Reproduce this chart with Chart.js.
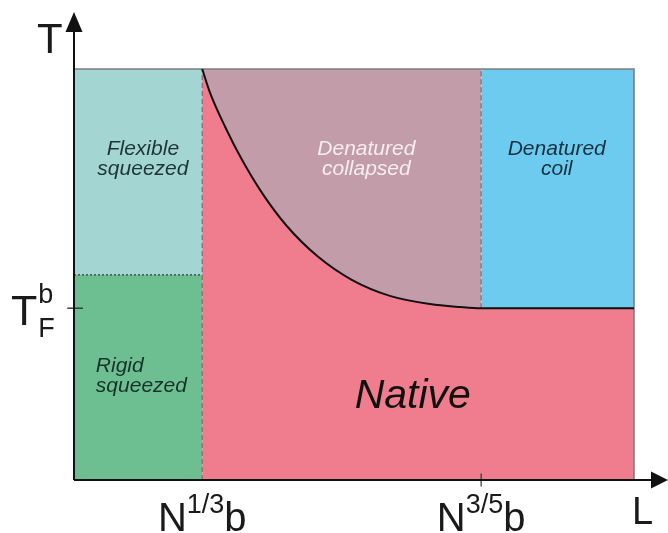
<!DOCTYPE html>
<html>
<head>
<meta charset="utf-8">
<script src="https://cdn.jsdelivr.net/npm/chart.js@4"></script>
<style>
  html, body { margin: 0; padding: 0; background: #fff; }
  #wrap { width: 668px; height: 533px; position: relative; }
</style>
</head>
<body>
<div id="wrap"><canvas id="fase"></canvas></div>
<script>
// --- datos (L en unidades de la caja, T normalizada) ---
const L_N13 = 0.229;   // N^{1/3} b
const L_N35 = 0.727;   // N^{3/5} b
const L_MAX = 1.0;
const T_MAX = 1.0;
const T_FB = 0.418;    // T_F^b
const T_FLEX = 0.499;  // borde flexible / rigido

// frontera nativo / desnaturalizado colapsado
const curvaL = [0.229, 0.243, 0.270, 0.300, 0.336, 0.380, 0.436, 0.496, 0.564, 0.636, 0.689, 0.727, 1.0];
const curvaT = [1.0, 0.942, 0.859, 0.779, 0.698, 0.618, 0.543, 0.487, 0.448, 0.428, 0.421, 0.418, 0.418];

const regiones = ['Flexible squeezed', 'Rigid squeezed', 'Denatured collapsed', 'Denatured coil', 'Native'];
const ticksX = [['N', '1/3', 'b'], ['N', '3/5', 'b']];
const ticksY = [['T', 'F', 'b']];
const ejes = ['L', 'T'];

// rango de los ejes (la flecha va mas alla de la caja)
const X_END = 1.0607, Y_END = 1.1387;

const pts = (xs, ys) => xs.map((x, i) => ({ x, y: ys[i] }));
const FONT = '"Liberation Sans", Arial, sans-serif';

const relleno = (data, color) => ({
  data, fill: 'origin', backgroundColor: color, borderWidth: 0, pointRadius: 0, tension: 0
});
const linea = (data, color, width, dash, clip) => ({
  data, fill: false, borderColor: color, borderWidth: width, borderDash: dash || [],
  pointRadius: 0, tension: 0, clip: clip ? false : undefined
});

const datasets = [
  relleno(pts([L_N35, L_MAX], [T_MAX, T_MAX]), '#6ccbee'),          // coil
  relleno(pts([L_N13, L_N35], [T_MAX, T_MAX]), '#c29ca9'),          // collapsed
  relleno(pts([0, L_N13], [T_MAX, T_MAX]), '#a3d5d2'),              // flexible
  relleno(pts([0, L_N13], [T_FLEX, T_FLEX]), '#6dbf92'),            // rigid
  Object.assign(relleno(pts(curvaL, curvaT), '#ef7d8e'), { cubicInterpolationMode: 'monotone' }), // native
  linea(pts([0, L_N13], [T_FLEX, T_FLEX]), '#2e3b36', 1.3, [2, 2]),
  linea(pts([L_N13, L_N13], [0, T_MAX]), '#8c6670', 1.2, [5, 3]),
  linea(pts([L_N35, L_N35], [T_FB, T_MAX]), '#8c6670', 1.2, [5, 3]),
  linea(pts([0, L_MAX, L_MAX], [T_MAX, T_MAX, 0]), '#7d7d7d', 1.6),
  Object.assign(linea(pts(curvaL, curvaT), '#111', 2), { cubicInterpolationMode: 'monotone' }),
  linea(pts([L_N35, L_N35], [-0.016, 0.016]), '#333', 1.2, null, true),
  linea(pts([-0.012, 0.016], [T_FB, T_FB]), '#333', 1.4, null, true),
  linea(pts([0, X_END - 0.02], [0, 0]), '#111', 2, null, true),
  linea(pts([0, 0], [0, Y_END - 0.03]), '#111', 2, null, true)
];
datasets.forEach((d, i) => { d.order = -i; });

// texto de regiones: [lineas, x, y (datos), alineacion, color, tamano]
const etiquetas = [
  [['Flexible', 'squeezed'], 0.123, 0.791, 'center', '#1d3535', 21],
  [['Rigid', 'squeezed'], 0.039, 0.263, 'left', '#163329', 21],
  [['Denatured', 'collapsed'], 0.522, 0.791, 'center', '#f6eef1', 21],
  [['Denatured', 'coil'], 0.862, 0.791, 'center', '#163040', 21],
  [['Native'], 0.605, 0.175, 'center', '#111', 41]
];

const dibujo = {
  id: 'dibujo',
  afterDatasetsDraw(chart) {
    const { ctx, scales: { x, y } } = chart;
    ctx.save();
    // flechas
    ctx.fillStyle = '#111';
    const ox = x.getPixelForValue(0), oy = y.getPixelForValue(0);
    const ty = y.getPixelForValue(Y_END), tx = x.getPixelForValue(X_END);
    ctx.beginPath();
    ctx.moveTo(ox, ty); ctx.lineTo(ox - 8.5, ty + 20); ctx.lineTo(ox + 8.5, ty + 20); ctx.closePath(); ctx.fill();
    ctx.beginPath();
    ctx.moveTo(tx, oy); ctx.lineTo(tx - 17, oy - 8.5); ctx.lineTo(tx - 17, oy + 8.5); ctx.closePath(); ctx.fill();

    // etiquetas de regiones
    etiquetas.forEach(([lineas, lx, ly, al, col, size]) => {
      ctx.font = `italic ${size}px ${FONT}`;
      ctx.fillStyle = col;
      ctx.textAlign = al;
      ctx.textBaseline = 'alphabetic';
      lineas.forEach((t, k) => ctx.fillText(t, x.getPixelForValue(lx), y.getPixelForValue(ly) + k * 20));
    });

    // ticks del eje L con superindice
    ctx.fillStyle = '#1a1a1a';
    ctx.textAlign = 'left';
    [L_N13, L_N35].forEach((v, i) => {
      const [base, sup, tail] = ticksX[i];
      ctx.font = `40px ${FONT}`;
      const wB = ctx.measureText(base).width, wT = ctx.measureText(tail).width;
      ctx.font = `27px ${FONT}`;
      const wS = ctx.measureText(sup).width;
      let px = x.getPixelForValue(v) - (wB + wS + wT) / 2;
      const by = oy + 51;
      ctx.font = `40px ${FONT}`; ctx.fillText(base, px, by); px += wB;
      ctx.font = `27px ${FONT}`; ctx.fillText(sup, px, by - 18); px += wS;
      ctx.font = `40px ${FONT}`; ctx.fillText(tail, px, by);
    });

    // T_F^b
    const [tb, tsub, tsup] = ticksY[0];
    const py = y.getPixelForValue(T_FB);
    ctx.font = `43px ${FONT}`;
    ctx.fillText(tb, 11, py + 17);
    const wT = ctx.measureText(tb).width;
    ctx.font = `27px ${FONT}`;
    ctx.fillText(tsub, 11 + wT + 1, py + 29);
    ctx.fillText(tsup, 11 + wT + 1, py - 5);

    // nombres de los ejes
    ctx.font = `38px ${FONT}`;
    ctx.fillText(ejes[0], x.getPixelForValue(L_MAX) - 2, oy + 44);
    ctx.font = `42px ${FONT}`;
    ctx.fillText(ejes[1], 37, 53);
    ctx.restore();
  }
};

new Chart(document.getElementById('fase'), {
  type: 'line',
  data: { datasets },
  options: {
    responsive: true,
    maintainAspectRatio: false,
    animation: false,
    layout: { padding: { left: 74, right: 0, top: 12, bottom: 53 } },
    plugins: { legend: { display: false }, tooltip: { enabled: false } },
    scales: {
      x: { type: 'linear', min: 0, max: X_END, display: false },
      y: { type: 'linear', min: 0, max: Y_END, display: false }
    }
  },
  plugins: [dibujo]
});
</script>
</body>
</html>
